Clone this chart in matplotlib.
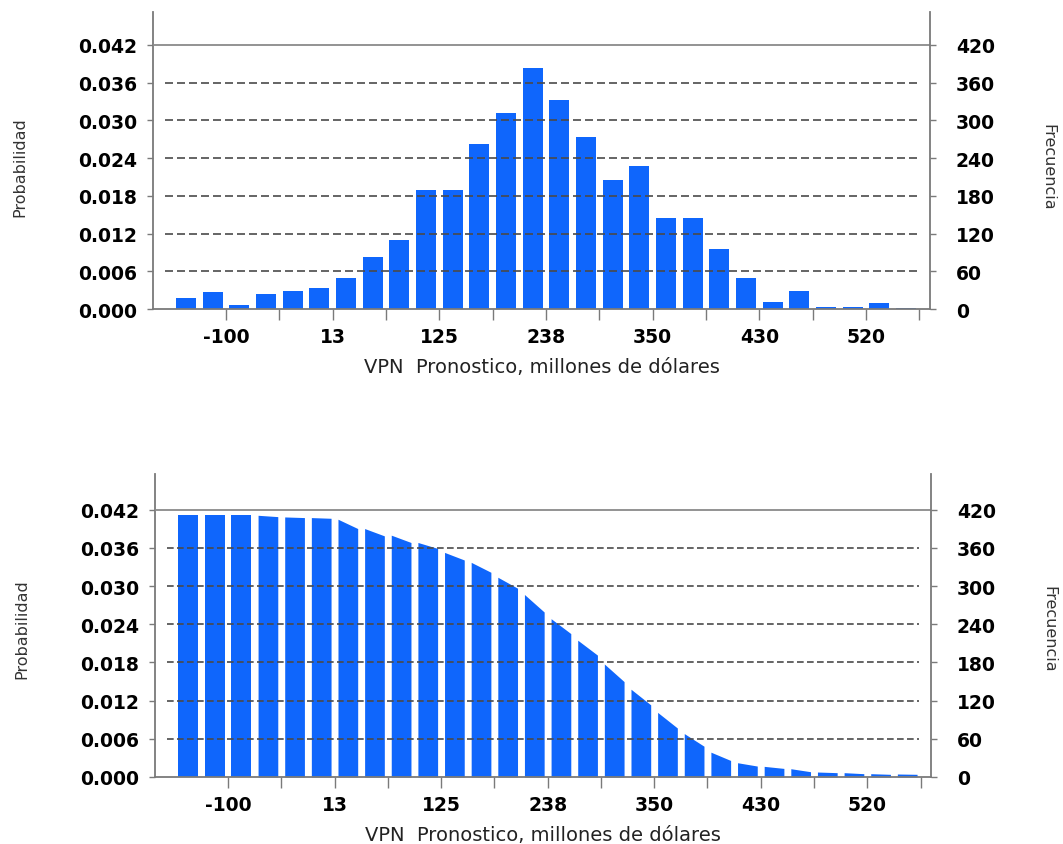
import numpy as np
import matplotlib
matplotlib.use("Agg")
import matplotlib.pyplot as plt

# ---------------- data ----------------
bins = np.arange(28)                       # 28 forecast bins
tick_edges = np.arange(1.5, 28, 2)         # tick marks every two bins
tick_labels = ['-100', '', '13', '', '125', '', '238', '', '350', '', '430', '', '520', '']

prob_hist = [0.0018, 0.0027, 0.0006, 0.0024, 0.0029, 0.0034, 0.0049, 0.0082,
             0.0110, 0.0189, 0.0189, 0.0262, 0.0312, 0.0384, 0.0333, 0.0274,
             0.0205, 0.0228, 0.0145, 0.0145, 0.0095, 0.0049, 0.0011, 0.0029,
             0.0004, 0.0004, 0.0009, 0.0002]

# reverse-cumulative view: value at left and right edge of each bar
cum_left = [0.04116, 0.04116, 0.04122, 0.04111, 0.04085, 0.04075, 0.04049, 0.03903,
            0.03799, 0.03684, 0.03528, 0.03372, 0.03138, 0.02867, 0.02487, 0.02149,
            0.01775, 0.01379, 0.01015, 0.00682, 0.00390, 0.00224, 0.00167, 0.00130,
            0.00078, 0.00068, 0.00052, 0.00047]
cum_right = [0.04116, 0.04116, 0.04122, 0.04090, 0.04075, 0.04064, 0.03903, 0.03788,
             0.03684, 0.03591, 0.03409, 0.03216, 0.02966, 0.02592, 0.02253, 0.01915,
             0.01499, 0.01134, 0.00770, 0.00484, 0.00260, 0.00172, 0.00135, 0.00083,
             0.00068, 0.00052, 0.00042, 0.00042]

prob_ticks = [0.000, 0.006, 0.012, 0.018, 0.024, 0.030, 0.036, 0.042]
freq_ticks = [0, 60, 120, 180, 240, 300, 360, 420]
freq_per_prob = 10000

xlabel = "VPN  Pronostico, millones de dólares"
ylabel_left = "Probabilidad"
ylabel_right = "Frecuencia"

# ---------------- style ----------------
BLUE = '#0f66fc'
SPINE = '#7a7a7a'
GRID = '#4a4a4a'
BAR_W = 0.74
TICKFONT = dict(family='DejaVu Sans', weight='bold', size=13.5)

fig = plt.figure(figsize=(10.63, 8.45), dpi=100)


def setup(ax, ylim_top, dash, ylab_y):
    ax.set_xlim(-1.24, 27.9)
    ax.set_ylim(0, ylim_top)
    for s in ['top', 'right']:
        ax.spines[s].set_visible(False)
    for s in ['left', 'bottom']:
        ax.spines[s].set_color(SPINE)
        ax.spines[s].set_linewidth(1.3)
    ax.set_yticks(prob_ticks)
    ax.set_yticklabels([f"{v:.3f}" for v in prob_ticks], **TICKFONT)
    ax.set_xticks(tick_edges)
    ax.set_xticklabels(tick_labels, **TICKFONT)
    ax.tick_params(axis='y', direction='out', length=4.5, width=1.0, color=SPINE, pad=7)
    ax.tick_params(axis='x', direction='out', length=8, width=1.0, color=SPINE, pad=5)
    # grid lines
    ax.axhline(prob_ticks[-1], color='#8a8a8a', lw=1.3, zorder=4)
    for v in prob_ticks[1:-1]:
        ax.hlines(v, -0.8, 27.45, colors=GRID, lw=1.2, linestyles=[(0, dash)], zorder=4)
    ax.set_xlabel(xlabel, family='DejaVu Sans', size=14, color='#222222', labelpad=8)
    ax.set_ylabel(ylabel_left, family='DejaVu Sans', size=11.5, color='#333333')
    ax.yaxis.set_label_coords(-0.162, ylab_y)

    ax2 = ax.twinx()
    ax2.set_ylim(0, ylim_top * freq_per_prob)
    for s in ['top', 'left', 'bottom']:
        ax2.spines[s].set_visible(False)
    ax2.spines['right'].set_color(SPINE)
    ax2.spines['right'].set_linewidth(1.3)
    ax2.set_yticks(freq_ticks)
    ax2.set_yticklabels([str(v) for v in freq_ticks], **TICKFONT)
    ax2.tick_params(axis='y', direction='out', length=4.5, width=1.0, color=SPINE, pad=14)
    ax2.set_ylabel(ylabel_right, family='DejaVu Sans', size=11.5, color='#333333',
                   rotation=270, va='center')
    ax2.yaxis.set_label_coords(1.152, ylab_y)
    return ax2


# ---------------- top: histogram ----------------
ax1 = fig.add_axes([0.1439, 0.6331, 0.7310, 0.3519])
ax1.bar(bins, prob_hist, width=BAR_W, color=BLUE, zorder=2)
setup(ax1, 0.0473, (4.8, 2.4), 0.48)

# ---------------- bottom: reverse cumulative ----------------
ax3 = fig.add_axes([0.1458, 0.0793, 0.7302, 0.3586])
for i in bins:
    xl = i - BAR_W / 2
    xr = i + BAR_W / 2
    ax3.fill_between([xl, xr], [0, 0], [cum_left[i], cum_right[i]],
                     color=BLUE, lw=0, zorder=2)
setup(ax3, 0.0476, (4.0, 2.0), 0.49)

fig.savefig("out.png", dpi=100, facecolor='white')
